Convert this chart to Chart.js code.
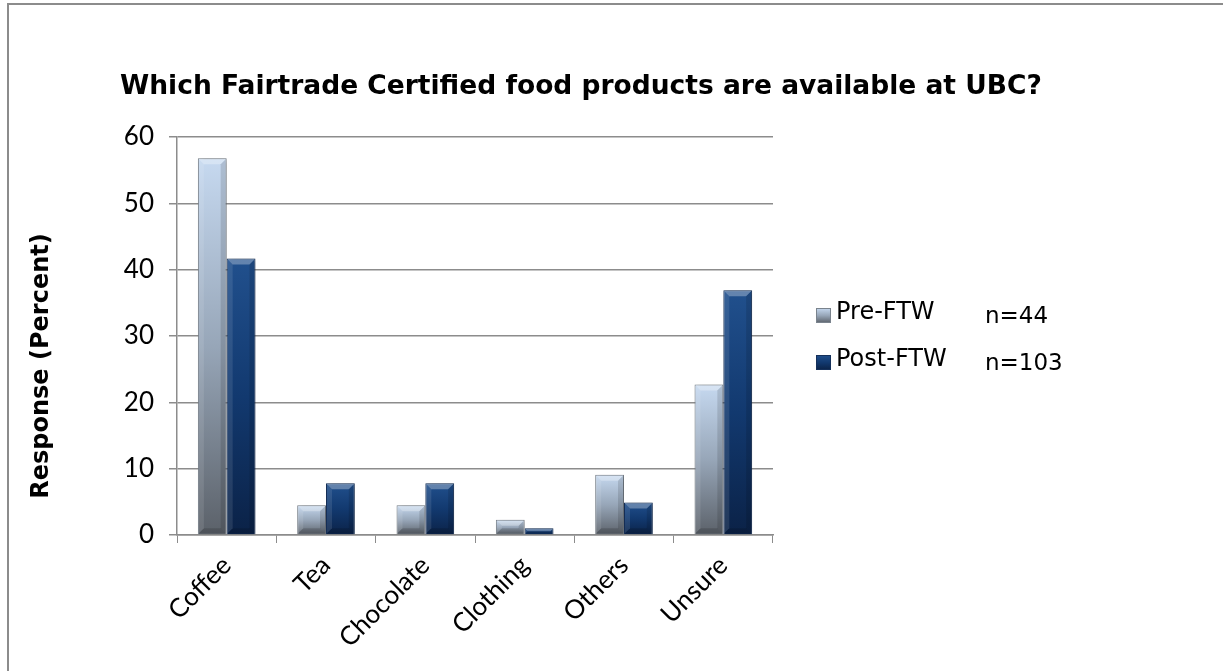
<!DOCTYPE html>
<html>
<head>
<meta charset="utf-8">
<script src="https://cdn.jsdelivr.net/npm/chart.js@4/dist/chart.umd.min.js"></script>
<style>
  html, body { margin: 0; padding: 0; background: #fff; overflow: hidden; }
  #frame { position: absolute; left: 7px; top: 3px; width: 1300px; height: 800px; border: 2px solid #8c8c8c; }
  #wrap { position: absolute; left: 0; top: 0; width: 1223px; height: 671px; }
</style>
</head>
<body>
<div id="frame"></div>
<div id="wrap"><canvas id="chart"></canvas></div>
<script>
const categories = ["Coffee", "Tea", "Chocolate", "Clothing", "Others", "Unsure"];
const preFtw  = [56.8, 4.5, 4.5, 2.3, 9.1, 22.7];
const postFtw = [41.7, 7.8, 7.8, 1.0, 4.9, 36.9];
const seriesNames = ["Pre-FTW", "Post-FTW"];
const sampleSizes = ["n=44", "n=103"];
const chartTitle = "Which Fairtrade Certified food products are available at UBC?";
const yTitle = "Response (Percent)";

// steel grey for Pre, navy for Post
const palettes = [
  { stops: ["#c6d9f0", "#97a6b8", "#5b6169"], edge: "#7a838d" },
  { stops: ["#21508d", "#12396f", "#0b2247"], edge: "#15305a" },
];

function gradientFor(c, top, bottom, idx) {
  const g = c.createLinearGradient(0, top, 0, bottom);
  const s = palettes[idx].stops;
  g.addColorStop(0, s[0]);
  g.addColorStop(0.5, s[1]);
  g.addColorStop(1, s[2]);
  return g;
}

function barFill(idx) {
  return (ctx) => {
    const chart = ctx.chart;
    if (!chart.chartArea || ctx.type !== "data") return palettes[idx].stops[1];
    const y = chart.scales.y;
    return gradientFor(chart.ctx, y.getPixelForValue(ctx.raw), y.getPixelForValue(0), idx);
  };
}

// soft drop shadow behind the bars
const barShadow = {
  id: "barShadow",
  beforeDatasetDraw(chart) {
    const c = chart.ctx;
    c.save();
    c.shadowColor = "rgba(0,0,0,0.28)";
    c.shadowBlur = 6;
    c.shadowOffsetX = 2;
    c.shadowOffsetY = 1;
  },
  afterDatasetDraw(chart) {
    chart.ctx.restore();
  },
};

// bevelled edges on each bar
const bevel = {
  id: "bevel",
  afterDatasetsDraw(chart) {
    const c = chart.ctx;
    chart.data.datasets.forEach((ds, i) => {
      chart.getDatasetMeta(i).data.forEach((bar) => {
        const { x, y, base, width } = bar.getProps(["x", "y", "base", "width"], true);
        const l = x - width / 2 + 1, r = x + width / 2 - 1;
        const t = y + 1, b = base - 1;
        const d = Math.min(5, (b - t) / 2);
        c.save();
        c.fillStyle = "rgba(255,255,255,0.30)";
        c.beginPath();
        c.moveTo(l, t); c.lineTo(r, t); c.lineTo(r - d, t + d); c.lineTo(l + d, t + d);
        c.closePath(); c.fill();
        c.fillStyle = "rgba(255,255,255,0.10)";
        c.beginPath();
        c.moveTo(l, t); c.lineTo(l + d, t + d); c.lineTo(l + d, b - d); c.lineTo(l, b);
        c.closePath(); c.fill();
        c.fillStyle = "rgba(0,0,0,0.12)";
        c.beginPath();
        c.moveTo(r, t); c.lineTo(r - d, t + d); c.lineTo(r - d, b - d); c.lineTo(r, b);
        c.closePath(); c.fill();
        c.fillStyle = "rgba(0,0,0,0.15)";
        c.beginPath();
        c.moveTo(l, b); c.lineTo(l + d, b - d); c.lineTo(r - d, b - d); c.lineTo(r, b);
        c.closePath(); c.fill();
        c.restore();
      });
    });
  },
};

// title, axis title, legend and sample sizes
const annotations = {
  id: "annotations",
  afterDraw(chart) {
    const c = chart.ctx;
    c.save();
    c.fillStyle = "#000";
    c.textBaseline = "alphabetic";

    c.font = "bold 26.5px 'DejaVu Sans'";
    c.textAlign = "left";
    c.fillText(chartTitle, 120, 94);

    c.save();
    c.translate(48, 366);
    c.rotate(-Math.PI / 2);
    c.font = "bold 24px 'DejaVu Sans'";
    c.textAlign = "center";
    c.fillText(yTitle, 0, 0);
    c.restore();

    const rows = [319, 366];
    seriesNames.forEach((name, i) => {
      const base = rows[i];
      const sq = { x: 816, y: base - 11, s: 15 };
      c.fillStyle = gradientFor(c, sq.y, sq.y + sq.s, i);
      c.fillRect(sq.x, sq.y, sq.s, sq.s);
      c.strokeStyle = palettes[i].edge;
      c.lineWidth = 1;
      c.strokeRect(sq.x + 0.5, sq.y + 0.5, sq.s - 1, sq.s - 1);
      c.fillStyle = "#000";
      c.font = "24px 'DejaVu Sans'";
      c.textAlign = "left";
      c.fillText(name, 836, base);
      c.font = "23px 'DejaVu Sans'";
      c.fillText(sampleSizes[i], 985, base + 4);
    });
    c.restore();
  },
};

const axisGrey = "#8c8c8c";

new Chart(document.getElementById("chart"), {
  type: "bar",
  data: {
    labels: categories,
    datasets: [
      { label: seriesNames[0], data: preFtw, backgroundColor: barFill(0), borderColor: palettes[0].edge, borderWidth: 1 },
      { label: seriesNames[1], data: postFtw, backgroundColor: barFill(1), borderColor: palettes[1].edge, borderWidth: 1 },
    ],
  },
  options: {
    responsive: true,
    maintainAspectRatio: false,
    animation: false,
    events: [],
    layout: { padding: { top: 137, right: 450, left: 0, bottom: 0 } },
    datasets: { bar: { categoryPercentage: 0.58, barPercentage: 1.0 } },
    plugins: {
      legend: { display: false },
      title: { display: false },
      tooltip: { enabled: false },
    },
    scales: {
      x: {
        afterFit: (s) => { s.height = 136; },
        grid: { display: true, drawOnChartArea: false, drawTicks: true, tickLength: 8, color: axisGrey, offset: true },
        border: { display: true, color: axisGrey, width: 1.5 },
        ticks: {
          color: "#000",
          font: { family: "Lato", size: 26 },
          minRotation: 45,
          maxRotation: 45,
          padding: 7,
        },
      },
      y: {
        min: 0,
        max: 60,
        afterFit: (s) => { s.width = 177; },
        grid: { color: axisGrey, lineWidth: 1.5, tickLength: 8 },
        border: { display: true, color: axisGrey, width: 1.5 },
        ticks: {
          stepSize: 10,
          color: "#000",
          font: { family: "Lato", size: 26 },
          padding: 15,
        },
      },
    },
  },
  plugins: [barShadow, bevel, annotations],
});
</script>
</body>
</html>
